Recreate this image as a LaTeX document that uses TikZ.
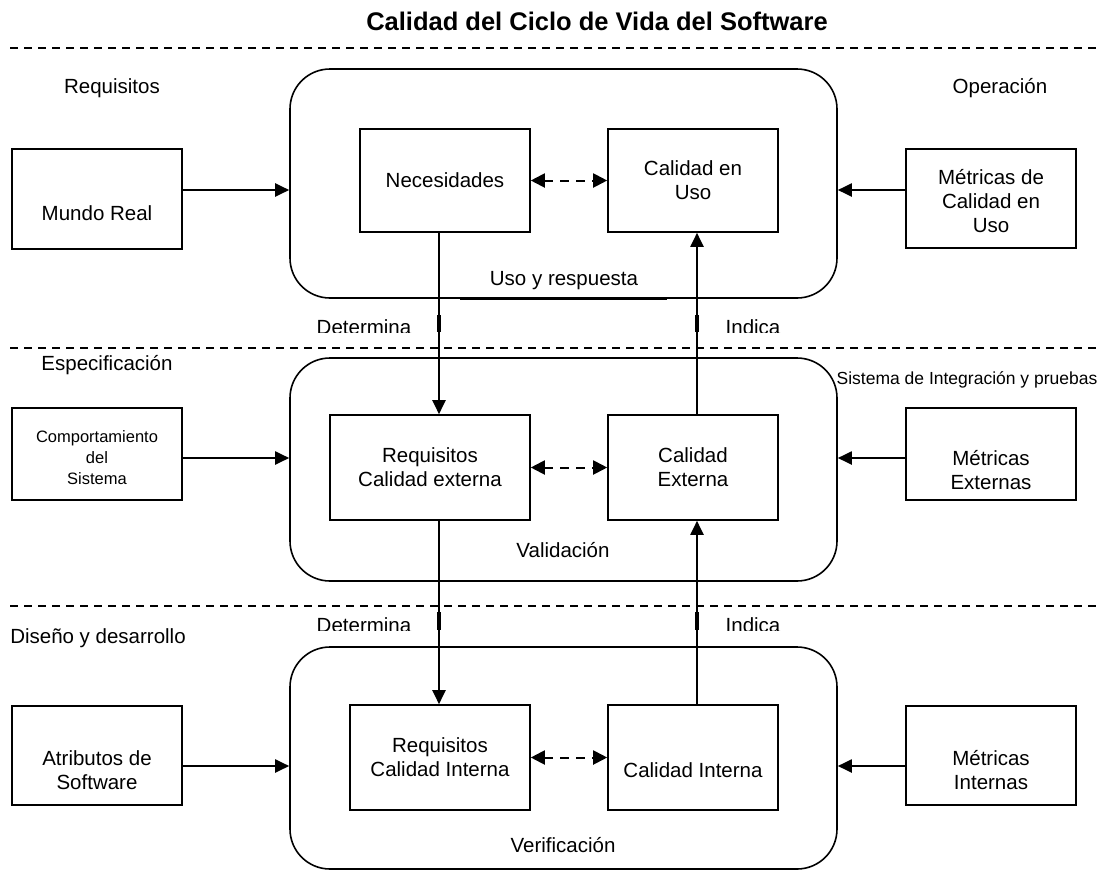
\documentclass[tikz,border=0pt]{standalone}
\usepackage{fontspec}
\setmainfont{Liberation Sans}
\usetikzlibrary{arrows.meta,calc}

\begin{document}
\begin{tikzpicture}[x=1pt,y=-1pt,
  txt/.style={font=\fontsize{20.5}{24}\selectfont, align=center, inner sep=0pt},
  smalltxt/.style={font=\fontsize{16.5}{21}\selectfont, align=center, inner sep=0pt},
  box/.style={draw, line width=1.6pt, inner sep=0pt},
  stage/.style={draw, line width=1.6pt, rounded corners=40pt, inner sep=0pt,
                minimum width=547pt},
  flow/.style={line width=2pt, -{Triangle[length=14pt,width=13pt]}},
  link/.style={line width=2pt, dash pattern=on 9pt off 7pt,
               {Triangle[length=14pt,width=14pt]}-{Triangle[length=14pt,width=14pt]}},
  divider/.style={line width=1.3pt, dash pattern=on 8pt off 6pt},
  tab/.style={line width=4.5pt}]

\useasboundingbox (0,0) rectangle (1112,871);

% title and level dividers
\node[font=\fontsize{25.5}{30}\selectfont\bfseries, inner sep=0pt] (title) at (597,21)
  {Calidad del Ciclo de Vida del Software};
\coordinate (d1a) at (10,48);  \coordinate (d1b) at (1096,48);
\coordinate (d2a) at (10,348); \coordinate (d2b) at (1096,348);
\coordinate (d3a) at (10,606); \coordinate (d3b) at (1096,606);
\draw[divider] (d1a) -- (d1b);
\draw[divider] (d2a) -- (d2b);
\draw[divider] (d3a) -- (d3b);

% stage containers
\node[stage, minimum height=229pt] (top) at (563.5,183.5) {};
\node[stage, minimum height=223pt] (mid) at (563.5,469.5) {};
\node[stage, minimum height=222pt] (bot) at (563.5,758) {};

% phase captions
\node[txt] (lreq)  at (112,88)  {Requisitos};
\node[txt] (lop)   at (1000,88) {Operación};
\node[txt] (lesp)  at (107,365) {Especificación};
\node[smalltxt, font=\fontsize{17.5}{21}\selectfont] (lsis) at (967,380) {Sistema de Integración y pruebas};
\node[txt] (ldis)  at (98,638)  {Diseño y desarrollo};
\node[txt] (luso)  at (564,281) {Uso y respuesta};
\node[txt] (lval)  at (563,550) {Validación};
\node[txt] (lver)  at (563,845) {Verificación};

% inner quality boxes
\node[box, minimum width=170pt, minimum height=103pt] (nec)  at (445,180.5) {};
\node[box, minimum width=170pt, minimum height=103pt] (cuso) at (693,180.5) {};
\node[box, minimum width=200pt, minimum height=105pt] (rce)  at (430,467.5) {};
\node[box, minimum width=170pt, minimum height=105pt] (cext) at (693,467.5) {};
\node[box, minimum width=180pt, minimum height=105pt] (rci)  at (440,757.5) {};
\node[box, minimum width=170pt, minimum height=105pt] (cint) at (693,757.5) {};
\node[txt] (tnec)  at (445,180)  {Necesidades};
\node[txt] (tcuso) at (693,180)  {Calidad en\\Uso};
\node[txt] (trce)  at (430,467)  {Requisitos\\Calidad externa};
\node[txt] (tcext) at (693,467)  {Calidad\\Externa};
\node[txt] (trci)  at (440,757)  {Requisitos\\Calidad Interna};
\node[txt] (tcint) at (693,770)  {Calidad Interna};

% outer source boxes
\node[box, minimum width=170pt, minimum height=100pt] (mundo) at (97,199)   {};
\node[box, minimum width=170pt, minimum height=92pt]  (comp)  at (97,454)   {};
\node[box, minimum width=170pt, minimum height=99pt]  (atrib) at (97,755.5) {};
\node[box, minimum width=170pt, minimum height=99pt]  (met1)  at (991,198.5) {};
\node[box, minimum width=170pt, minimum height=92pt]  (met2)  at (991,454)  {};
\node[box, minimum width=170pt, minimum height=99pt]  (met3)  at (991,755.5) {};
\node[txt]      (tmundo) at (97,213)  {Mundo Real};
\node[smalltxt] (tcomp)  at (97,458)  {Comportamiento\\del\\Sistema};
\node[txt]      (tatrib) at (97,770)  {Atributos de\\Software};
\node[txt]      (tmet1)  at (991,201) {Métricas de\\Calidad en\\Uso};
\node[txt]      (tmet2)  at (991,470) {Métricas\\Externas};
\node[txt]      (tmet3)  at (991,770) {Métricas\\Internas};

% arrow rows and columns
\coordinate (r1) at (0,190);
\coordinate (r2) at (0,458);
\coordinate (r3) at (0,766);
\coordinate (colL) at (439,0);
\coordinate (colR) at (697,0);

\draw[flow] (mundo.east |- r1) -- (top.west |- r1);
\draw[flow] (comp.east |- r2)  -- (mid.west |- r2);
\draw[flow] (atrib.east |- r3) -- (bot.west |- r3);
\draw[flow] (met1.west |- r1)  -- (top.east |- r1);
\draw[flow] (met2.west |- r2)  -- (mid.east |- r2);
\draw[flow] (met3.west |- r3)  -- (bot.east |- r3);

\draw[link] (nec.east) -- (cuso.west);
\draw[link] (rce.east) -- (cext.west);
\draw[link] (rci.east) -- (cint.west);

\draw[flow] (nec.south -| colL) -- (rce.north -| colL);
\draw[flow] (rce.south -| colL) -- (rci.north -| colL);
\draw[flow] (cint.north -| colR) -- (cext.south -| colR);
\draw[flow] (cext.north -| colR) -- (cuso.south -| colR);

% heavy rule under the usage caption
\coordinate (ua) at (460,298); \coordinate (ub) at (667,298);
\draw[line width=3pt] (ua) -- (ub);

% short heavy tabs where the labels meet the columns
\coordinate (t1) at (0,315); \coordinate (t2) at (0,332);
\coordinate (t3) at (0,612); \coordinate (t4) at (0,630);
\draw[tab] (colL |- t1) -- (colL |- t2);
\draw[tab] (colR |- t1) -- (colR |- t2);
\draw[tab] (colL |- t3) -- (colL |- t4);
\draw[tab] (colR |- t3) -- (colR |- t4);

% cropped column labels
\begin{scope}
  \clip (300,300) rectangle (820,332);
  \node[txt, anchor=base] (det1) at (364,334.3) {Determina};
  \node[txt, anchor=base] (ind1) at (753,334.3) {Indica};
\end{scope}
\begin{scope}
  \clip (300,608) rectangle (820,630);
  \node[txt, anchor=base] (det2) at (364,632.5) {Determina};
  \node[txt, anchor=base] (ind2) at (753,632.5) {Indica};
\end{scope}
\end{tikzpicture}
\end{document}
